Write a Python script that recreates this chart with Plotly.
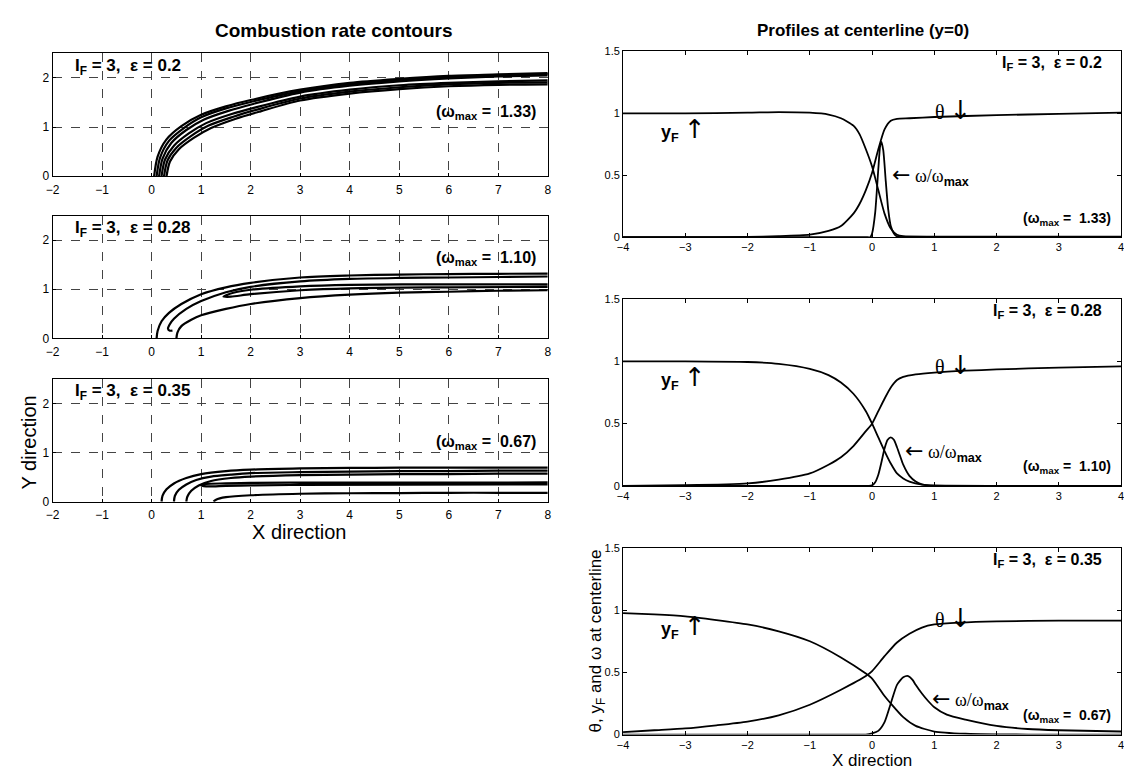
import plotly.graph_objects as go

W, H = 1132, 770

# ---------------- Left panels: combustion-rate contour lines ----------------
# Panel L1 : I_F = 3, eps = 0.2
l1_curves = [
    ([0.05, 0.12, 0.3, 0.6, 1, 1.5, 2, 3, 4, 5, 6, 7, 8],
     [0, 0.4, 0.75, 1.02, 1.25, 1.42, 1.55, 1.76, 1.9, 1.98, 2.04, 2.07, 2.1]),
    ([0.1, 0.17, 0.35, 0.65, 1, 1.5, 2, 3, 4, 5, 6, 7, 8],
     [0, 0.38, 0.72, 0.98, 1.2, 1.38, 1.51, 1.73, 1.87, 1.96, 2.02, 2.05, 2.08]),
    ([0.15, 0.22, 0.4, 0.7, 1.05, 1.55, 2.05, 3, 4, 5, 6, 7, 8],
     [0, 0.36, 0.68, 0.94, 1.15, 1.33, 1.47, 1.7, 1.84, 1.93, 1.99, 2.03, 2.05]),
    ([0.2, 0.27, 0.45, 0.75, 1.1, 1.6, 2.1, 3, 4, 5, 6, 7, 8],
     [0, 0.34, 0.62, 0.87, 1.08, 1.26, 1.4, 1.62, 1.76, 1.85, 1.9, 1.93, 1.95]),
    ([0.25, 0.32, 0.5, 0.8, 1.15, 1.65, 2.15, 3, 4, 5, 6, 7, 8],
     [0, 0.32, 0.58, 0.82, 1.03, 1.21, 1.36, 1.58, 1.72, 1.81, 1.87, 1.9, 1.91]),
    ([0.3, 0.37, 0.55, 0.85, 1.2, 1.7, 2.2, 3, 4, 5, 6, 7, 8],
     [0, 0.3, 0.55, 0.78, 0.98, 1.17, 1.32, 1.54, 1.68, 1.77, 1.83, 1.86, 1.87]),
]
# Panel L2 : I_F = 3, eps = 0.28
l2_curves = [
    ([0.1, 0.12, 0.2, 0.35, 0.6, 1, 1.5, 2, 3, 4, 5, 6, 7, 8],
     [0, 0.15, 0.35, 0.52, 0.7, 0.9, 1.04, 1.13, 1.24, 1.28, 1.3, 1.31, 1.315, 1.32]),
    ([0.42, 0.36, 0.33, 0.36, 0.45, 0.7, 1, 1.5, 2, 3, 4, 5, 6, 7, 8],
     [0.16, 0.16, 0.2, 0.28, 0.4, 0.6, 0.76, 0.94, 1.05, 1.16, 1.21, 1.23, 1.24, 1.25, 1.26]),
    ([8, 6, 4, 3, 2, 1.65, 1.45, 1.6, 2, 3, 4, 6, 8],
     [1.1, 1.1, 1.09, 1.06, 0.99, 0.93, 0.85, 0.85, 0.9, 0.98, 1.02, 1.04, 1.05]),
    ([0.5, 0.52, 0.6, 0.8, 1, 1.5, 2, 3, 4, 5, 6, 7, 8],
     [0, 0.12, 0.25, 0.38, 0.47, 0.6, 0.7, 0.82, 0.89, 0.93, 0.95, 0.97, 0.98]),
]
# Panel L3 : I_F = 3, eps = 0.35
l3_curves = [
    ([0.2, 0.22, 0.3, 0.45, 0.7, 1, 1.5, 2, 3, 4, 5, 6, 7, 8],
     [0, 0.12, 0.25, 0.37, 0.48, 0.56, 0.62, 0.65, 0.675, 0.685, 0.69, 0.69, 0.69, 0.69]),
    ([0.45, 0.47, 0.55, 0.7, 0.9, 1.2, 1.6, 2, 3, 4, 5, 6, 7, 8],
     [0, 0.12, 0.24, 0.35, 0.44, 0.51, 0.55, 0.58, 0.6, 0.61, 0.62, 0.62, 0.63, 0.63]),
    ([0.7, 0.72, 0.8, 0.95, 1.2, 1.6, 2, 3, 4, 5, 6, 7, 8],
     [0, 0.1, 0.22, 0.33, 0.42, 0.48, 0.51, 0.54, 0.55, 0.56, 0.56, 0.57, 0.57]),
    ([8, 3, 2, 1.5, 1.1, 1.0, 1.1, 1.5, 2, 3, 8],
     [0.39, 0.385, 0.38, 0.37, 0.36, 0.33, 0.31, 0.32, 0.33, 0.34, 0.35]),
    ([1.25, 1.3, 1.5, 2, 3, 4, 5, 6, 7, 8],
     [0, 0.04, 0.09, 0.13, 0.16, 0.17, 0.175, 0.18, 0.18, 0.18]),
]

# ---------------- Right panels: centerline profiles ----------------
r1_x_yF = [-4, -3, -2, -1.5, -1, -0.7, -0.5, -0.3, -0.2, -0.1, 0, 0.1, 0.2, 0.3, 0.4, 0.5, 1, 2, 3, 4]
r1_yF = [1.0, 1.0, 1.005, 1.01, 1.005, 0.99, 0.96, 0.9, 0.83, 0.71, 0.57, 0.38, 0.19, 0.07, 0.02, 0.008, 0.005, 0.005, 0.005, 0.005]
r1_x_th = [-4, -3, -2, -1.5, -1, -0.7, -0.5, -0.3, -0.2, -0.1, 0, 0.1, 0.2, 0.3, 0.4, 0.6, 1, 2, 3, 4]
r1_th = [0.0, 0.0, 0.003, 0.008, 0.02, 0.05, 0.09, 0.19, 0.27, 0.38, 0.52, 0.71, 0.87, 0.94, 0.955, 0.96, 0.97, 0.985, 0.995, 1.005]
r1_x_om = [-4, -1, -0.1, -0.03, 0.0, 0.05, 0.1, 0.13, 0.15, 0.18, 0.22, 0.26, 0.3, 0.35, 0.4, 0.5, 1, 4]
r1_om = [0, 0, 0, 0.0, 0.03, 0.2, 0.55, 0.74, 0.77, 0.7, 0.45, 0.22, 0.09, 0.03, 0.005, 0, 0, 0]

r2_x_yF = [-4, -3, -2, -1.5, -1, -0.7, -0.5, -0.3, -0.1, 0, 0.1, 0.2, 0.3, 0.4, 0.5, 0.6, 0.8, 1, 2, 4]
r2_yF = [1.0, 1.0, 0.995, 0.98, 0.94, 0.89, 0.83, 0.74, 0.6, 0.5, 0.39, 0.28, 0.18, 0.1, 0.06, 0.035, 0.01, 0.003, 0, 0]
r2_x_th = [-4, -3, -2, -1.5, -1, -0.7, -0.5, -0.3, -0.1, 0, 0.1, 0.2, 0.3, 0.4, 0.5, 0.7, 1, 1.5, 2, 3, 4]
r2_th = [0, 0.005, 0.02, 0.05, 0.1, 0.17, 0.23, 0.32, 0.44, 0.5, 0.6, 0.7, 0.79, 0.85, 0.875, 0.895, 0.91, 0.925, 0.935, 0.95, 0.96]
r2_x_om = [-4, -1, -0.2, -0.05, 0, 0.05, 0.1, 0.15, 0.2, 0.25, 0.3, 0.35, 0.4, 0.45, 0.5, 0.6, 0.7, 0.8, 0.9, 1, 2, 4]
r2_om = [0, 0, 0, 0, 0.005, 0.03, 0.09, 0.19, 0.3, 0.37, 0.39, 0.37, 0.31, 0.24, 0.17, 0.08, 0.035, 0.012, 0.004, 0, 0, 0]

r3_x_yF = [-4, -3.5, -3, -2.5, -2, -1.5, -1, -0.5, -0.1, 0, 0.2, 0.3, 0.5, 0.7, 1, 1.5, 2, 3, 4]
r3_yF = [0.975, 0.965, 0.95, 0.92, 0.885, 0.83, 0.75, 0.62, 0.49, 0.45, 0.31, 0.25, 0.14, 0.07, 0.025, 0.007, 0.002, 0, 0]
r3_x_th = [-4, -3.5, -3, -2.5, -2, -1.5, -1, -0.5, -0.1, 0, 0.2, 0.4, 0.6, 0.8, 1, 1.4, 2, 3, 4]
r3_th = [0.02, 0.035, 0.05, 0.075, 0.105, 0.155, 0.24, 0.36, 0.47, 0.51, 0.63, 0.74, 0.81, 0.86, 0.885, 0.9, 0.91, 0.915, 0.915]
r3_x_om = [-4, -1, -0.3, -0.1, 0, 0.1, 0.2, 0.3, 0.4, 0.5, 0.58, 0.65, 0.7, 0.8, 0.9, 1, 1.2, 1.5, 2, 2.5, 3, 4]
r3_om = [0, 0, 0, 0, 0.01, 0.03, 0.1, 0.25, 0.4, 0.46, 0.47, 0.44, 0.4, 0.33, 0.27, 0.22, 0.16, 0.12, 0.07, 0.045, 0.035, 0.025]

eps_labels = ["0.2", "0.28", "0.35"]
wmax_labels = ["1.33", "1.10", "0.67"]

left_x_ticks = [-2, -1, 0, 1, 2, 3, 4, 5, 6, 7, 8]
left_y_ticks = [0, 1, 2]
right_x_ticks = [-4, -3, -2, -1, 0, 1, 2, 3, 4]
right_y_ticks = [0, 0.5, 1, 1.5]

# ---------------- layout geometry (pixels) ----------------
def xd(a, b):
    return [a / W, b / W]

def yd(top, bottom):
    return [1 - bottom / H, 1 - top / H]

left_x_dom = xd(38, 538)
left_y_doms = [yd(40, 165), yd(205, 330), yd(371, 496)]
right_x_dom = xd(614, 1117)
right_y_doms = [yd(38, 227), yd(290, 480), yd(543, 733)]

SANS = "Liberation Sans, Arial, Helvetica, sans-serif"
SERIF = "Liberation Serif, Times New Roman, serif"

fig = go.Figure()

line_l = dict(color="black", width=2.2, shape="spline", smoothing=0.8)
line_r = dict(color="black", width=1.8, shape="spline", smoothing=0.6)

for i, curves in enumerate([l1_curves, l2_curves, l3_curves]):
    xa = "x" if i == 0 else f"x{i+1}"
    ya = "y" if i == 0 else f"y{i+1}"
    for cx, cy in curves:
        fig.add_trace(go.Scatter(x=cx, y=cy, mode="lines", line=line_l,
                                 xaxis=xa, yaxis=ya, showlegend=False, hoverinfo="skip"))

right_data = [
    [(r1_x_yF, r1_yF), (r1_x_th, r1_th), (r1_x_om, r1_om)],
    [(r2_x_yF, r2_yF), (r2_x_th, r2_th), (r2_x_om, r2_om)],
    [(r3_x_yF, r3_yF), (r3_x_th, r3_th), (r3_x_om, r3_om)],
]
for i, series in enumerate(right_data):
    n = i + 4
    for cx, cy in series:
        fig.add_trace(go.Scatter(x=cx, y=cy, mode="lines", line=line_r,
                                 xaxis=f"x{n}", yaxis=f"y{n}", showlegend=False, hoverinfo="skip"))

layout = dict(
    width=W, height=H, margin=dict(l=0, r=0, t=0, b=0),
    paper_bgcolor="white", plot_bgcolor="white",
    font=dict(family=SANS, color="black", size=11),
    showlegend=False,
)

tickfont_l = dict(family=SANS, size=12, color="black")
tickfont_r = dict(family=SANS, size=11, color="black")

for i in range(3):
    sx = "" if i == 0 else str(i + 1)
    layout[f"xaxis{sx}"] = dict(
        domain=left_x_dom, range=[-2, 8], anchor=f"y{sx}", tickvals=left_x_ticks,
        showgrid=True, gridcolor="#444", gridwidth=0.8, griddash="dash",
        showline=True, linecolor="black", linewidth=1, mirror=True,
        ticks="inside", ticklen=3, tickcolor="black", zeroline=False,
        tickfont=tickfont_l, fixedrange=True, ticklabelstandoff=2)
    layout[f"yaxis{sx}"] = dict(
        domain=left_y_doms[i], range=[0, 2.5], anchor=f"x{sx}", tickvals=left_y_ticks,
        showgrid=True, gridcolor="#444", gridwidth=0.8, griddash="dash",
        showline=True, linecolor="black", linewidth=1, mirror=True,
        ticks="inside", ticklen=3, tickcolor="black", zeroline=False,
        tickfont=tickfont_l, fixedrange=True)
    n = i + 4
    layout[f"xaxis{n}"] = dict(
        domain=right_x_dom, range=[-4, 4], anchor=f"y{n}", tickvals=right_x_ticks,
        showgrid=False, showline=True, linecolor="black", linewidth=1, mirror="ticks",
        ticks="inside", ticklen=4, tickcolor="black", zeroline=False,
        tickfont=tickfont_r, fixedrange=True)
    layout[f"yaxis{n}"] = dict(
        domain=right_y_doms[i], range=[0, 1.5], anchor=f"x{n}", tickvals=right_y_ticks,
        ticktext=["0", "0.5", "1", "1.5"],
        showgrid=False, showline=True, linecolor="black", linewidth=1, mirror="ticks",
        ticks="inside", ticklen=4, tickcolor="black", zeroline=False,
        tickfont=tickfont_r, fixedrange=True)

fig.update_layout(**layout)

ann = []
# titles
ann.append(dict(text="<b>Combustion rate contours</b>", x=322 / W, y=1 - 17 / H, xref="paper", yref="paper",
                showarrow=False, font=dict(family=SANS, size=19), xanchor="center", yanchor="middle"))
ann.append(dict(text="<b>Profiles at centerline (y=0)</b>", x=856 / W, y=1 - 17 / H, xref="paper", yref="paper",
                showarrow=False, font=dict(family=SANS, size=17), xanchor="center", yanchor="middle"))
# axis titles
ann.append(dict(text="Y direction", x=14 / W, y=1 - 436 / H, xref="paper", yref="paper", textangle=-90,
                showarrow=False, font=dict(family=SANS, size=20), xanchor="center", yanchor="middle"))
ann.append(dict(text="X direction", x=287 / W, y=1 - 527 / H, xref="paper", yref="paper",
                showarrow=False, font=dict(family=SANS, size=20), xanchor="center", yanchor="middle"))
ann.append(dict(text="X direction", x=865 / W, y=1 - 759 / H, xref="paper", yref="paper",
                showarrow=False, font=dict(family=SANS, size=17), xanchor="center", yanchor="middle"))
ann.append(dict(text="θ, y<sub>F</sub> and ω at centerline", x=588 / W, y=1 - 638 / H, xref="paper", yref="paper",
                textangle=-90, showarrow=False, font=dict(family=SANS, size=17), xanchor="center", yanchor="middle"))

wmax_left_y = [1.3, 1.62, 1.2]
theta_y = [1.03, 0.97, 0.94]
ARROW = "font-family:DejaVu Sans;font-size:26px"
HARROW = "font-family:DejaVu Sans;font-size:22px"
for i in range(3):
    sx = "" if i == 0 else str(i + 1)
    # left panel labels
    ann.append(dict(text=f"<b>I<sub>F</sub> = 3,  ε = {eps_labels[i]}</b>", x=-1.58, y=2.22,
                    xref=f"x{sx}", yref=f"y{sx}", showarrow=False, xanchor="left", yanchor="middle",
                    font=dict(family=SANS, size=17)))
    ann.append(dict(text=f"<b>(ω<sub>max</sub> =  {wmax_labels[i]})</b>", x=7.8, y=wmax_left_y[i],
                    xref=f"x{sx}", yref=f"y{sx}", showarrow=False, xanchor="right", yanchor="middle",
                    font=dict(family=SANS, size=16)))
    n = i + 4
    ann.append(dict(text=f"<b>I<sub>F</sub> = 3,  ε = {eps_labels[i]}</b>", x=3.73, y=1.4,
                    xref=f"x{n}", yref=f"y{n}", showarrow=False, xanchor="right", yanchor="middle",
                    font=dict(family=SANS, size=16)))
    ann.append(dict(text=f"<b>(ω<sub>max</sub> =  {wmax_labels[i]})</b>", x=3.87, y=0.15,
                    xref=f"x{n}", yref=f"y{n}", showarrow=False, xanchor="right", yanchor="middle",
                    font=dict(family=SANS, size=14)))
    ann.append(dict(text=f"<b>y<sub>F</sub></b> <span style=\"{ARROW}\">↑</span>", x=-3.43, y=0.87,
                    xref=f"x{n}", yref=f"y{n}", showarrow=False, xanchor="left", yanchor="middle",
                    font=dict(family=SANS, size=18)))
    ann.append(dict(text=f"θ <span style=\"{ARROW}\">↓</span>", x=0.98, y=theta_y[i],
                    xref=f"x{n}", yref=f"y{n}", showarrow=False, xanchor="left", yanchor="middle",
                    font=dict(family=SERIF, size=20)))

om_pos = [(0.28, 0.5), (0.5, 0.28), (0.93, 0.28)]
for i, (ox, oy) in enumerate(om_pos):
    n = i + 4
    ann.append(dict(text=f"<span style=\"{HARROW}\">←</span> ω/ω<b style=\"font-family:Liberation Sans\"><sub>max</sub></b>",
                    x=ox, y=oy, xref=f"x{n}", yref=f"y{n}", showarrow=False, xanchor="left", yanchor="middle",
                    font=dict(family=SERIF, size=18)))

fig.update_layout(annotations=ann)
fig.write_html("out.html")
